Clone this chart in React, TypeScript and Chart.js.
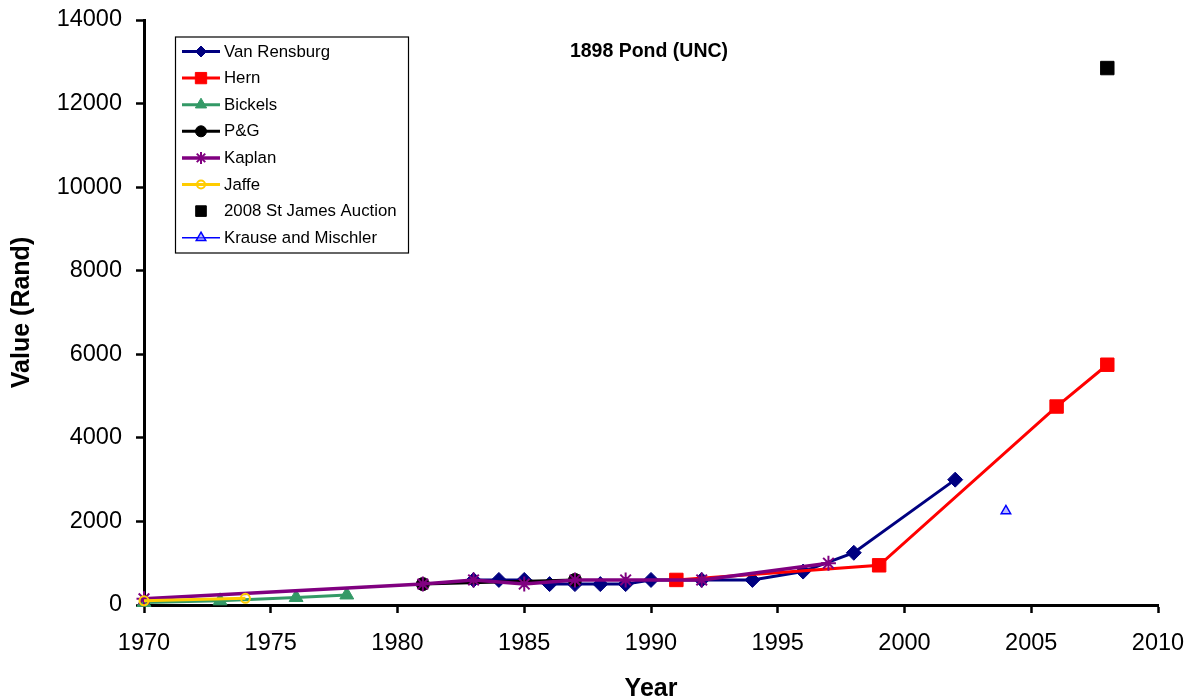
import React, { useEffect, useRef } from 'react';
import { Chart, registerables } from 'chart.js';
import { drawPoint } from 'chart.js/helpers';

Chart.register(...registerables);

// ---- Data ----
const vanRensburgYears = [1983, 1984, 1985, 1986, 1987, 1988, 1989, 1990, 1992, 1994, 1996, 1998, 2002];
const vanRensburgValues = [600, 600, 600, 500, 500, 500, 500, 600, 600, 600, 800, 1250, 3000];

const hernYears = [1991, 1999, 2006, 2008];
const hernValues = [600, 950, 4750, 5750];

const bickelsYears = [1970, 1973, 1976, 1978];
const bickelsValues = [60, 100, 180, 240];

const pgYears = [1981, 1987];
const pgValues = [500, 600];

const kaplanYears = [1970, 1981, 1983, 1985, 1987, 1989, 1992, 1997];
const kaplanValues = [150, 500, 600, 500, 600, 600, 600, 1000];

const jaffeYears = [1970, 1974];
const jaffeValues = [100, 160];

const stJamesYears = [2008];
const stJamesValues = [12850];

const krauseYears = [2004];
const krauseValues = [2250];

const seriesNames = [
  'Van Rensburg',
  'Hern',
  'Bickels',
  'P&G',
  'Kaplan',
  'Jaffe',
  '2008 St James Auction',
  'Krause and Mischler',
];

const xTicks = [1970, 1975, 1980, 1985, 1990, 1995, 2000, 2005, 2010];
const yTicks = [0, 2000, 4000, 6000, 8000, 10000, 12000, 14000];

const chartTitle = '1898 Pond (UNC)';
const xTitle = 'Year';
const yTitle = 'Value (Rand)';

// ---- Styles ----
type Style = {
  color: string;
  fill: string;
  pointStyle: string;
  radius: number;
  legendRadius: number;
  borderWidth: number;
  lineWidth: number;
  showLine: boolean;
};

const styles: Style[] = [
  { color: '#000080', fill: '#000080', pointStyle: 'rectRot', radius: 7.5, legendRadius: 5.5, borderWidth: 1, lineWidth: 3, showLine: true },
  { color: '#FF0000', fill: '#FF0000', pointStyle: 'rect', radius: 9.5, legendRadius: 8, borderWidth: 1, lineWidth: 3, showLine: true },
  { color: '#339966', fill: '#339966', pointStyle: 'triangle', radius: 8, legendRadius: 6.5, borderWidth: 1, lineWidth: 3, showLine: true },
  { color: '#000000', fill: '#000000', pointStyle: 'circle', radius: 6.5, legendRadius: 5.5, borderWidth: 1, lineWidth: 3, showLine: true },
  { color: '#800080', fill: '#800080', pointStyle: 'star', radius: 7.5, legendRadius: 6, borderWidth: 2, lineWidth: 3.5, showLine: true },
  { color: '#FFCC00', fill: 'rgba(255,255,255,0)', pointStyle: 'circle', radius: 4.5, legendRadius: 4, borderWidth: 2, lineWidth: 3, showLine: true },
  { color: '#000000', fill: '#000000', pointStyle: 'rect', radius: 9.5, legendRadius: 7.5, borderWidth: 1, lineWidth: 0, showLine: false },
  { color: '#0000FF', fill: 'rgba(120,120,255,0.5)', pointStyle: 'triangle', radius: 5.5, legendRadius: 5.5, borderWidth: 1.5, lineWidth: 1.5, showLine: true },
];

const seriesData: [number[], number[]][] = [
  [vanRensburgYears, vanRensburgValues],
  [hernYears, hernValues],
  [bickelsYears, bickelsValues],
  [pgYears, pgValues],
  [kaplanYears, kaplanValues],
  [jaffeYears, jaffeValues],
  [stJamesYears, stJamesValues],
  [krauseYears, krauseValues],
];

const FONT = "'Liberation Sans', Arial, sans-serif";

const overlayPlugin = {
  id: 'overlay',
  afterDraw(chart: any) {
    const { ctx, chartArea } = chart;
    ctx.save();
    // title inside plot area
    ctx.fillStyle = '#000';
    ctx.font = `bold 19.5px ${FONT}`;
    ctx.textAlign = 'center';
    ctx.textBaseline = 'middle';
    ctx.fillText(chartTitle, (chartArea.left + chartArea.right) / 2 - 2, chartArea.top + 32);

    // legend box
    const x0 = chartArea.left + 31;
    const y0 = chartArea.top + 16.5;
    const w = 233;
    const h = 216;
    ctx.fillStyle = '#fff';
    ctx.fillRect(x0, y0, w, h);
    ctx.strokeStyle = '#000';
    ctx.lineWidth = 1.2;
    ctx.strokeRect(x0 + 0.5, y0 + 0.5, w, h);

    chart.data.datasets.forEach((ds: any, i: number) => {
      const st = styles[i];
      const y = y0 + 15 + i * 26.6;
      if (st.showLine) {
        ctx.strokeStyle = st.color;
        ctx.lineWidth = st.lineWidth;
        ctx.beginPath();
        ctx.moveTo(x0 + 7, y);
        ctx.lineTo(x0 + 45, y);
        ctx.stroke();
      }
      ctx.fillStyle = st.fill;
      ctx.strokeStyle = st.color;
      ctx.lineWidth = st.borderWidth;
      drawPoint(ctx, { pointStyle: st.pointStyle as any, rotation: 0, radius: st.legendRadius, borderWidth: st.borderWidth }, x0 + 26, y);
      ctx.fillStyle = '#000';
      ctx.font = `16.8px ${FONT}`;
      ctx.textAlign = 'left';
      ctx.textBaseline = 'middle';
      ctx.fillText(ds.label, x0 + 49, y + 0.5);
    });
    ctx.restore();
  },
};

export default function App() {
  const canvasRef = useRef<HTMLCanvasElement | null>(null);

  useEffect(() => {
    document.body.style.margin = '0';
    const canvas = canvasRef.current;
    if (!canvas) return;

    const datasets = seriesNames.map((name, i) => {
      const st = styles[i];
      const [xs, ys] = seriesData[i];
      return {
        label: name,
        data: xs.map((x, k) => ({ x, y: ys[k] })),
        showLine: st.showLine,
        borderColor: st.color,
        backgroundColor: st.fill,
        borderWidth: st.lineWidth,
        pointStyle: st.pointStyle,
        pointRadius: st.radius,
        pointBorderWidth: st.borderWidth,
        pointBorderColor: st.color,
        pointBackgroundColor: st.fill,
        tension: 0,
        clip: false as any,
        order: seriesNames.length - i,
      };
    });

    const chart = new Chart(canvas, {
      type: 'scatter',
      data: { datasets: datasets as any },
      options: {
        animation: false,
        responsive: false,
        devicePixelRatio: 1,
        layout: { padding: { top: 20, right: 27, left: 0, bottom: 0 } },
        plugins: {
          legend: { display: false },
          tooltip: { enabled: false },
          title: { display: false },
        },
        scales: {
          x: {
            type: 'linear',
            min: 1970,
            max: 2010,
            afterBuildTicks: (scale: any) => {
              scale.ticks = xTicks.map((v) => ({ value: v }));
            },
            afterFit: (scale: any) => {
              scale.height = 94;
              scale.paddingLeft = 0;
              scale.paddingRight = 0;
            },
            ticks: {
              color: '#000',
              font: { family: FONT, size: 23.5 },
              padding: 16,
              maxRotation: 0,
              autoSkip: false,
              callback: (v: any) => String(v),
            },
            grid: {
              display: true,
              drawOnChartArea: false,
              drawTicks: true,
              tickLength: 8,
              tickWidth: 2.5,
              tickColor: '#000',
            },
            border: { display: true, color: '#000', width: 3 },
            title: {
              display: true,
              text: xTitle,
              color: '#000',
              font: { family: FONT, size: 25, weight: 'bold', lineHeight: 0.8 },
              padding: { top: 0, bottom: 0 },
            },
          },
          y: {
            type: 'linear',
            min: 0,
            max: 14000,
            afterBuildTicks: (scale: any) => {
              scale.ticks = yTicks.map((v) => ({ value: v }));
            },
            afterFit: (scale: any) => {
              scale.width = 144;
              scale.paddingTop = 0;
              scale.paddingBottom = 0;
            },
            ticks: {
              color: '#000',
              font: { family: FONT, size: 23.5 },
              padding: 14,
              autoSkip: false,
              callback: (v: any) => String(v),
            },
            grid: {
              display: true,
              drawOnChartArea: false,
              drawTicks: true,
              tickLength: 8,
              tickWidth: 2.5,
              tickColor: '#000',
            },
            border: { display: true, color: '#000', width: 3 },
            title: {
              display: true,
              text: yTitle,
              color: '#000',
              font: { family: FONT, size: 25, weight: 'bold', lineHeight: 1 },
              padding: { top: 10, bottom: 0 },
            },
          },
        },
      },
      plugins: [overlayPlugin],
    });

    return () => chart.destroy();
  }, []);

  return (
    <div style={{ width: 1185, height: 699, position: 'relative', background: '#fff' }}>
      <canvas ref={canvasRef} width={1185} height={699} style={{ display: 'block' }} />
    </div>
  );
}
